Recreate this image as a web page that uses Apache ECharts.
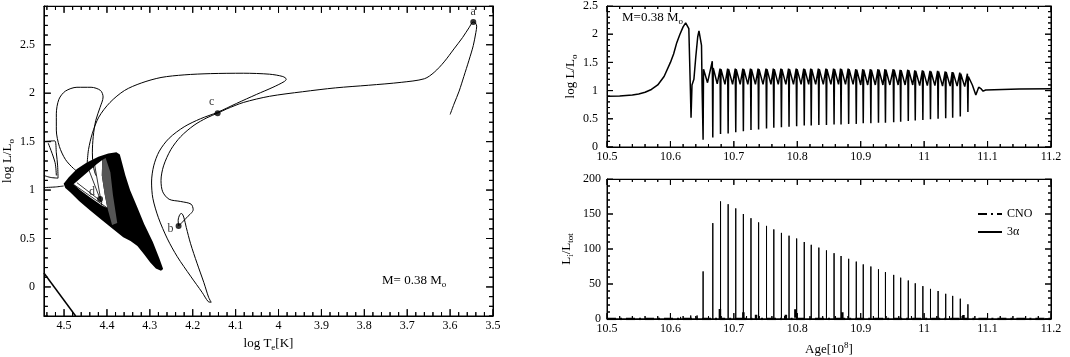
<!DOCTYPE html>
<html>
<head>
<meta charset="utf-8">
<script src="https://cdn.jsdelivr.net/npm/echarts@6/dist/echarts.min.js"></script>
<style>
  html, body { margin: 0; padding: 0; background: #fff; }
  #main { width: 1070px; height: 357px; }
</style>
</head>
<body>
<div id="main"></div>
<script>
  // HR diagram: points are [log Te, log L/Lsun]
  var trackRgb = [
    [3.600, 1.780], [3.591, 1.887], [3.579, 2.021], [3.568, 2.172], [3.556, 2.340],
    [3.546, 2.491], [3.540, 2.625], [3.538, 2.692], [3.541, 2.725], [3.546, 2.735],
    [3.556, 2.675], [3.571, 2.574], [3.591, 2.457], [3.614, 2.323], [3.637, 2.216],
    [3.660, 2.149], [3.714, 2.112], [3.790, 2.082], [3.867, 2.055], [3.944, 2.015],
    [4.021, 1.968], [4.082, 1.904], [4.121, 1.837], [4.142, 1.794], [4.167, 1.746],
    [4.197, 1.669], [4.228, 1.552], [4.251, 1.418], [4.268, 1.250], [4.274, 1.099],
    [4.270, 0.982], [4.255, 0.905], [4.228, 0.882], [4.204, 0.855], [4.199, 0.798],
    [4.213, 0.721], [4.233, 0.630]
  ];
  var trackLoop = [
    [4.233, 0.630], [4.234, 0.687], [4.230, 0.748], [4.226, 0.758], [4.221, 0.721],
    [4.215, 0.613], [4.205, 0.446], [4.190, 0.245], [4.174, 0.044], [4.163, -0.107],
    [4.157, -0.158], [4.164, -0.151], [4.178, -0.057], [4.205, 0.111], [4.236, 0.312],
    [4.259, 0.496], [4.280, 0.714], [4.293, 0.915], [4.296, 1.083], [4.291, 1.250],
    [4.278, 1.401], [4.255, 1.535], [4.220, 1.653], [4.182, 1.736], [4.142, 1.803],
    [4.098, 1.894], [4.051, 1.988], [4.013, 2.061], [3.986, 2.122], [3.982, 2.145],
    [3.990, 2.172], [4.021, 2.196], [4.082, 2.206], [4.159, 2.202], [4.220, 2.189],
    [4.274, 2.162], [4.320, 2.105], [4.359, 2.028], [4.393, 1.904], [4.419, 1.753],
    [4.434, 1.586], [4.443, 1.418], [4.446, 1.284]
  ];
  var trackEar = [
    [4.457, 1.150], [4.478, 1.223], [4.497, 1.317], [4.511, 1.451], [4.518, 1.619],
    [4.518, 1.787], [4.512, 1.937], [4.497, 2.021], [4.470, 2.061], [4.437, 2.061],
    [4.415, 2.028], [4.409, 1.961], [4.416, 1.854], [4.426, 1.720], [4.432, 1.552],
    [4.434, 1.384], [4.432, 1.250], [4.426, 1.150]
  ];
  var trackEdgeLoop = [
    [4.547, 1.502], [4.522, 1.508], [4.518, 1.384], [4.515, 1.250], [4.514, 1.123],
    [4.531, 1.130], [4.547, 1.150]
  ];
  var trackEdgeInner = [[4.537, 1.485], [4.521, 1.284], [4.518, 1.150]];
  var trackEdgeLine = [[4.547, 1.026], [4.520, 1.032], [4.501, 1.042]];
  var trackLowLeft = [[4.547, 0.144], [4.473, -0.300]];

  // the dense band of thermal-pulse loops
  var blobOuter = [
    [4.501, 1.066], [4.489, 1.133], [4.470, 1.217], [4.447, 1.284], [4.420, 1.344],
    [4.397, 1.378], [4.378, 1.391], [4.370, 1.368], [4.365, 1.284], [4.357, 1.150],
    [4.346, 0.999], [4.330, 0.831], [4.313, 0.647], [4.293, 0.463], [4.278, 0.295],
    [4.269, 0.184], [4.274, 0.168], [4.286, 0.191], [4.299, 0.251], [4.314, 0.339],
    [4.329, 0.422], [4.345, 0.473], [4.362, 0.513], [4.386, 0.597], [4.412, 0.691],
    [4.439, 0.788], [4.465, 0.888], [4.485, 0.975], [4.497, 1.022]
  ];
  var blobInner = [
    [4.478, 1.059], [4.451, 1.163], [4.424, 1.267], [4.411, 1.311], [4.412, 1.150],
    [4.405, 0.949], [4.399, 0.815], [4.412, 0.841], [4.439, 0.922], [4.462, 0.999]
  ];
  var blobHatch = [
    [4.411, 1.311], [4.403, 1.330], [4.392, 1.183], [4.386, 0.949], [4.376, 0.660],
    [4.388, 0.640], [4.399, 0.815], [4.405, 0.949], [4.412, 1.150]
  ];
  var blobFan = [
    [[4.478, 1.059], [4.399, 0.815]],
    [[4.470, 1.076], [4.411, 0.875]],
    [[4.429, 1.267], [4.412, 0.841]],
    [[4.443, 1.217], [4.416, 0.908]]
  ];

  var markNames = ['a', 'b', 'c', 'd'];
  var markPoints = [[3.546, 2.735], [4.233, 0.630], [4.142, 1.794], [4.416, 0.908]];

  // log L vs age, before the pulses
  var preAge = [10.50, 10.52, 10.54, 10.55, 10.56, 10.57, 10.58, 10.59, 10.60, 10.605,
    10.61, 10.615, 10.62, 10.624, 10.627, 10.629, 10.6315, 10.6325, 10.634, 10.637,
    10.640, 10.643, 10.645, 10.647, 10.649, 10.650];
  var preLum = [0.90, 0.905, 0.92, 0.94, 0.97, 1.02, 1.10, 1.25, 1.50, 1.65,
    1.85, 2.00, 2.13, 2.20, 2.21, 2.10, 1.00, 0.52, 1.10, 1.20,
    1.60, 1.95, 2.06, 2.07, 1.80, 1.00];

  // thermal pulses: time of the dip and levels around it
  var pulseAge = [10.6515, 10.6668, 10.6790, 10.6910, 10.7030, 10.7150, 10.7270, 10.7390,
    10.7515, 10.7630, 10.7750, 10.7870, 10.7990, 10.8110, 10.8220, 10.8340, 10.8460,
    10.8580, 10.8690, 10.8810, 10.8930, 10.9040, 10.9160, 10.9280, 10.9390, 10.9520,
    10.9630, 10.9750, 10.9860, 10.9980, 11.0100, 11.0220, 11.0340, 11.0450, 11.0570, 11.0690];
  var pulseMin = [0.13, 0.17, 0.23, 0.24, 0.26, 0.28, 0.30, 0.31, 0.33, 0.34, 0.35, 0.36,
    0.37, 0.38, 0.38, 0.39, 0.39, 0.40, 0.40, 0.41, 0.41, 0.42, 0.42, 0.43, 0.43, 0.44,
    0.45, 0.46, 0.47, 0.48, 0.49, 0.50, 0.51, 0.52, 0.54, 0.62];
  var pulsePeak = [2.07, 1.52, 1.39, 1.39, 1.39, 1.39, 1.39, 1.39, 1.39, 1.39, 1.39, 1.39,
    1.39, 1.39, 1.39, 1.39, 1.39, 1.39, 1.39, 1.39, 1.38, 1.38, 1.38, 1.38, 1.38, 1.38,
    1.37, 1.37, 1.36, 1.36, 1.35, 1.35, 1.34, 1.33, 1.32, 1.30];
  var pulseAfter = [1.38, 1.40, 1.38, 1.38, 1.38, 1.38, 1.38, 1.38, 1.38, 1.38, 1.38, 1.38,
    1.38, 1.38, 1.38, 1.38, 1.38, 1.38, 1.38, 1.38, 1.37, 1.37, 1.37, 1.37, 1.37, 1.37,
    1.36, 1.36, 1.35, 1.35, 1.34, 1.34, 1.33, 1.32, 1.30, 1.25];
  var pulseTrough = [1.14, 1.12, 1.11, 1.11, 1.11, 1.11, 1.11, 1.11, 1.11, 1.11, 1.11, 1.11,
    1.11, 1.11, 1.11, 1.11, 1.11, 1.11, 1.11, 1.11, 1.10, 1.10, 1.10, 1.10, 1.10, 1.10,
    1.10, 1.10, 1.09, 1.09, 1.09, 1.08, 1.08, 1.08, 1.07, 1.10];
  var postAge = [11.0815, 11.086, 11.090, 11.093, 11.097, 11.100, 11.150, 11.200];
  var postLum = [0.92, 1.06, 1.03, 0.99, 1.01, 1.02, 1.03, 1.035];

  // L_i / L_tot
  var alphaPeak = [68, 137, 168, 164, 158, 150, 144, 138, 133, 128, 123, 119, 115, 110, 106,
    102, 98, 94, 90, 86, 82, 78, 75, 71, 67, 63, 59, 55, 51, 47, 43, 40, 36, 33, 29, 21];
  var alphaPreAge = [10.600, 10.616, 10.632, 10.642];
  var alphaPreVal = [2, 3, 5, 5];
  var cnoAge = [10.678, 10.715, 10.735, 10.782, 10.797, 10.871, 11.062];
  var cnoVal = [17, 12, 6, 6, 14, 12, 7];

  var serif = 'Liberation Serif';

  function pairs(xs, ys) {
    return xs.map(function (x, i) { return [x, ys[i]]; });
  }

  function lumSeriesData() {
    var d = pairs(preAge, preLum);
    pulseAge.forEach(function (t, i) {
      if (i > 0) d.push([t - 0.0008, pulsePeak[i]]);
      d.push([t, pulseMin[i]]);
      d.push([t + 0.0007, pulseAfter[i]]);
      d.push([t + 0.007, pulseTrough[i]]);
    });
    return d.concat(pairs(postAge, postLum));
  }

  function spikeData(ages, vals) {
    var d = [[10.5, 0]];
    ages.forEach(function (t, i) {
      d.push([t, 0], [t, vals[i]], [t, 0]);
    });
    d.push([11.2, 0]);
    return d;
  }

  var alphaAges = alphaPreAge.concat(pulseAge);
  var alphaVals = alphaPreVal.concat(alphaPeak);

  function ax(grid, opt) {
    return Object.assign({
      type: 'value', gridIndex: grid,
      axisLine: { show: true, onZero: false, lineStyle: { color: '#000', width: 1 } },
      axisTick: { show: false },
      minorTick: { show: false },
      splitLine: { show: false },
      axisLabel: { color: '#000', fontFamily: serif, fontSize: 12, margin: 4 }
    }, opt);
  }

  var nameRich = {
    n: { fontFamily: serif, fontSize: 13, color: '#000' },
    s: { fontFamily: serif, fontSize: 9, color: '#000', padding: [8, 0, 0, 0] },
    u: { fontFamily: serif, fontSize: 9, color: '#000', padding: [0, 0, 8, 0] }
  };

  // inward ticks along one side, drawn as a line that runs along the frame
  function tickRun(lo, hi, minorStep, majorStep, base, inward, majorLen, minorLen, alongX) {
    var d = [];
    var n = Math.floor((hi - lo) / minorStep + 1e-6);
    for (var i = 0; i <= n; i++) {
      var v = lo + i * minorStep;
      var len = Math.abs(v / majorStep - Math.round(v / majorStep)) < 1e-6 ? majorLen : minorLen;
      var tip = base + inward * len;
      if (alongX) d.push([v, base], [v, tip], [v, base]);
      else d.push([base, v], [tip, v], [base, v]);
    }
    return d;
  }

  function tickLine(xi, yi, data) {
    return {
      type: 'line', xAxisIndex: xi, yAxisIndex: yi, data: data, symbol: 'none',
      lineStyle: { color: '#000', width: 1 }, silent: true
    };
  }

  // data units per pixel of each panel
  var hrPy = 3.2 / 318, hrPx = 1.047 / 455;
  var lumPy = 2.5 / 142, agePx = 0.7 / 444, burnPy = 200 / 142;

  var tickSeries = [
    tickLine(0, 0, tickRun(3.5, 4.547, 0.02, 0.1, -0.3, 1, 7 * hrPy, 4 * hrPy, true)),
    tickLine(0, 0, tickRun(3.5, 4.547, 0.02, 0.1, 2.9, -1, 7 * hrPy, 4 * hrPy, true)),
    tickLine(0, 0, tickRun(-0.3, 2.9, 0.1, 0.5, 4.547, -1, 7 * hrPx, 4 * hrPx, false)),
    tickLine(0, 0, tickRun(-0.3, 2.9, 0.1, 0.5, 3.5, 1, 7 * hrPx, 4 * hrPx, false)),
    tickLine(2, 2, tickRun(10.5, 11.2, 0.02, 0.1, 0, 1, 6 * lumPy, 3 * lumPy, true)),
    tickLine(2, 2, tickRun(10.5, 11.2, 0.02, 0.1, 2.5, -1, 6 * lumPy, 3 * lumPy, true)),
    tickLine(2, 2, tickRun(0, 2.5, 0.1, 0.5, 10.5, 1, 6 * agePx, 3 * agePx, false)),
    tickLine(2, 2, tickRun(0, 2.5, 0.1, 0.5, 11.2, -1, 6 * agePx, 3 * agePx, false)),
    tickLine(4, 4, tickRun(10.5, 11.2, 0.02, 0.1, 0, 1, 6 * burnPy, 3 * burnPy, true)),
    tickLine(4, 4, tickRun(10.5, 11.2, 0.02, 0.1, 200, -1, 6 * burnPy, 3 * burnPy, true)),
    tickLine(4, 4, tickRun(0, 200, 10, 50, 10.5, 1, 6 * agePx, 3 * agePx, false)),
    tickLine(4, 4, tickRun(0, 200, 10, 50, 11.2, -1, 6 * agePx, 3 * agePx, false))
  ];

  function hrLine(data, w) {
    return {
      type: 'line', xAxisIndex: 0, yAxisIndex: 0, data: data, symbol: 'none',
      smooth: 0.3, lineStyle: { color: '#000', width: w || 1 }, silent: true, z: 3
    };
  }

  var markLabel = [
    { position: 'top', distance: 1 },
    { position: 'left', distance: 2, offset: [0, 3] },
    { position: 'top', distance: 2, offset: [-6, 0] },
    { position: 'top', distance: 2, offset: [-8, 4] }
  ];

  var chart = echarts.init(document.getElementById('main'));

  chart.setOption({
    animation: false,
    backgroundColor: '#fff',
    grid: [
      { left: 38, top: 6, width: 455, height: 318 },
      { left: 607, top: 5, width: 444, height: 142 },
      { left: 607, top: 179, width: 444, height: 142 }
    ],
    xAxis: [
      ax(0, {
        min: 3.5, max: 4.547, interval: 0.1, inverse: true,
        axisLabel: { color: '#000', fontFamily: serif, fontSize: 12, margin: 4, showMaxLabel: false },
        name: '{n|log T}{s|e}{n|[K]}', nameLocation: 'middle', nameGap: 19,
        nameTextStyle: { rich: nameRich }
      }),
      ax(0, { min: 3.5, max: 4.547, interval: 0.1, inverse: true, position: 'top', axisLabel: { show: false } }),
      ax(1, { min: 10.5, max: 11.2, interval: 0.1 }),
      ax(1, { min: 10.5, max: 11.2, interval: 0.1, position: 'top', axisLabel: { show: false } }),
      ax(2, { min: 10.5, max: 11.2, interval: 0.1,
        name: '{n|Age[10}{u|8}{n|]}', nameLocation: 'middle', nameGap: 22,
        nameTextStyle: { rich: nameRich } }),
      ax(2, { min: 10.5, max: 11.2, interval: 0.1, position: 'top', axisLabel: { show: false } })
    ],
    yAxis: [
      ax(0, {
        min: -0.3, max: 2.9,
        axisLabel: { color: '#000', fontFamily: serif, fontSize: 12, margin: 9, showMinLabel: false, showMaxLabel: false },
        name: '{n|log L/L}{s|o}', nameLocation: 'middle', nameGap: 27,
        nameTextStyle: { rich: nameRich }
      }),
      ax(0, { min: -0.3, max: 2.9, position: 'right', axisLabel: { show: false } }),
      ax(1, { min: 0, max: 2.5, interval: 0.5,
        axisLabel: { color: '#000', fontFamily: serif, fontSize: 12, margin: 9 },
        name: '{n|log L/L}{s|o}', nameLocation: 'middle', nameGap: 28,
        nameTextStyle: { rich: nameRich } }),
      ax(1, { min: 0, max: 2.5, interval: 0.5, position: 'right', axisLabel: { show: false } }),
      ax(2, { min: 0, max: 200, interval: 50,
        axisLabel: { color: '#000', fontFamily: serif, fontSize: 12, margin: 6 },
        name: '{n|L}{s|i}{n|/L}{s|tot}', nameLocation: 'middle', nameGap: 32,
        nameTextStyle: { rich: nameRich } }),
      ax(2, { min: 0, max: 200, interval: 50, position: 'right', axisLabel: { show: false } })
    ],
    legend: {
      data: ['CNO', '3α'], orient: 'vertical', left: 972, top: 203,
      itemWidth: 24, itemHeight: 4, itemGap: 6,
      itemStyle: { opacity: 0 },
      textStyle: { fontFamily: serif, fontSize: 12, color: '#000' }
    },
    graphic: [
      { type: 'text', left: 382, top: 274, style: { text: '{n|M= 0.38 M}{s|o}', rich: nameRich } },
      { type: 'text', left: 622, top: 11, style: { text: '{n|M=0.38 M}{s|o}', rich: nameRich } }
    ],
    series: [
      {
        type: 'custom', xAxisIndex: 0, yAxisIndex: 0, data: [[4.4, 1.0]], silent: true, z: 2,
        renderItem: function (params, api) {
          function pts(list) { return list.map(function (p) { return api.coord(p); }); }
          var kids = [
            { type: 'polygon', shape: { points: pts(blobOuter) }, style: { fill: '#000' } },
            { type: 'polygon', shape: { points: pts(blobInner) }, style: { fill: '#fff' } },
            { type: 'polygon', shape: { points: pts(blobHatch) }, style: { fill: '#555' } }
          ];
          blobFan.forEach(function (seg) {
            var a = api.coord(seg[0]), b = api.coord(seg[1]);
            kids.push({ type: 'line', shape: { x1: a[0], y1: a[1], x2: b[0], y2: b[1] },
              style: { stroke: '#000', lineWidth: 0.8 } });
          });
          return { type: 'group', children: kids };
        }
      },
      hrLine(trackRgb),
      hrLine(trackLoop),
      hrLine(trackEar),
      hrLine(trackEdgeLoop),
      hrLine(trackEdgeInner),
      hrLine(trackEdgeLine),
      hrLine(trackLowLeft, 1.5),
      {
        type: 'scatter', xAxisIndex: 0, yAxisIndex: 0, symbolSize: 6, z: 5, silent: true,
        itemStyle: { color: '#000' },
        data: markPoints.map(function (p, i) {
          return { name: markNames[i], value: p, label: markLabel[i] };
        }),
        label: { show: true, formatter: '{b}', color: '#000', fontFamily: serif, fontSize: 12 }
      },
      {
        type: 'line', xAxisIndex: 2, yAxisIndex: 2, data: lumSeriesData(), symbol: 'none',
        lineStyle: { color: '#000', width: 1.5 }, silent: true
      },
      {
        name: 'CNO', type: 'line', xAxisIndex: 4, yAxisIndex: 4, data: spikeData(cnoAge, cnoVal),
        symbol: 'none', itemStyle: { color: '#000' },
        lineStyle: { color: '#000', width: 2.5, type: [9, 4, 2, 4] }, silent: true
      },
      {
        name: '3α', type: 'line', xAxisIndex: 4, yAxisIndex: 4, data: spikeData(alphaAges, alphaVals),
        symbol: 'none', itemStyle: { color: '#000' },
        lineStyle: { color: '#000', width: 1 }, silent: true
      }
    ].concat(tickSeries)
  });
</script>
</body>
</html>
